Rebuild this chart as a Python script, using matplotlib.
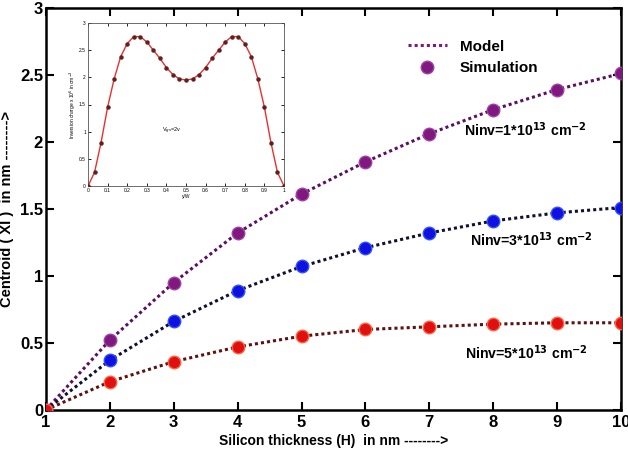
import matplotlib
matplotlib.use("Agg")
import matplotlib.pyplot as plt

plt.rcParams['font.family'] = ['Liberation Sans', 'DejaVu Sans']

thickness = [1, 2, 3, 4, 5, 6, 7, 8, 9, 10]
ninv1 = [0.0, 0.52, 0.95, 1.32, 1.61, 1.85, 2.06, 2.24, 2.39, 2.51]
ninv3 = [0.0, 0.37, 0.66, 0.89, 1.07, 1.21, 1.32, 1.41, 1.47, 1.51]
ninv5 = [0.0, 0.21, 0.36, 0.47, 0.55, 0.60, 0.62, 0.64, 0.65, 0.65]

inset_x = [i / 30 for i in range(31)]
inset_half = [0.0, 0.25, 0.80, 1.45, 1.97, 2.38, 2.62, 2.75, 2.75, 2.65,
              2.50, 2.35, 2.18, 2.05, 1.97, 1.95]
inset_y = inset_half + inset_half[-2::-1]

xticks = [1, 2, 3, 4, 5, 6, 7, 8, 9, 10]
yticks = [0, 0.5, 1, 1.5, 2, 2.5, 3]
ytick_labels = ['0', '0.5', '1', '1.5', '2', '2.5', '3']

fig = plt.figure(figsize=(6.28, 4.58), dpi=100)
ax = fig.add_axes([0.073, 0.105, 0.916, 0.878])

series = [
    (ninv1, '#80197f', '#5a1060', '#a040a0'),
    (ninv3, '#1010e0', '#101030', '#3050ff'),
    (ninv5, '#e01010', '#601010', '#ff6040'),
]
for vals, mcol, lcol, ecol in series:
    ax.plot(thickness, vals, linestyle=(0, (1, 1)), color=lcol, lw=2.2, zorder=2)
    ax.plot(thickness, vals, linestyle='none', marker='o', ms=9,
            markerfacecolor=mcol, markeredgecolor=ecol, mew=1.0, zorder=3)

# legend proxies
ax.plot([], [], linestyle=(0, (1, 1)), color='#80197f', lw=2.2, label='Model')
ax.plot([], [], linestyle='none', marker='o', ms=9, markerfacecolor='#80197f',
        markeredgecolor='#a040a0', label='Simulation')
handles, labels = ax.get_legend_handles_labels()
leg = ax.legend(handles[-2:], labels[-2:], loc='upper left',
                bbox_to_anchor=(0.605, 0.955), frameon=False,
                prop={'weight': 'bold', 'size': 11}, handlelength=2.6)

ninv_fmt = 'Ninv={}*10$^{{\\mathbf{{13}}}}$ cm$^{{\\mathbf{{-2}}}}$'
ax.text(7.55, 2.09, ninv_fmt.format(1), fontsize=10.2,
        fontweight='bold', va='center')
ax.text(7.63, 1.27, ninv_fmt.format(3), fontsize=10.2,
        fontweight='bold', va='center')
ax.text(7.56, 0.43, ninv_fmt.format(5), fontsize=10.2,
        fontweight='bold', va='center')

ax.set_xlim(1, 10)
ax.set_ylim(0, 3)
ax.set_xticks(xticks)
ax.set_yticks(yticks)
ax.set_yticklabels(ytick_labels)
ax.tick_params(direction='in', top=True, right=True, length=6, width=1.5,
               labelsize=12)
ax.tick_params(axis='y', pad=2)
for lab in ax.get_xticklabels() + ax.get_yticklabels():
    lab.set_fontweight('bold')
for s in ax.spines.values():
    s.set_linewidth(1.8)
ax.set_xlabel('Silicon thickness (H)  in nm -------->', fontsize=10,
              fontweight='bold', labelpad=3)
ax.set_ylabel('Centroid ( ΧΙ )  in nm -------->', fontsize=10.5,
              fontweight='bold')
ax.yaxis.set_label_coords(-0.056, 0.5)

# inset
ins = fig.add_axes([88 / 628, 1 - 186 / 458, 196 / 628, 163 / 458])
ins.plot(inset_x, inset_y, color='#e83030', lw=1.0, zorder=2)
ins.plot(inset_x, inset_y, linestyle='none', marker='o', ms=2.2,
         color='#602020', zorder=3)
ins.set_xlim(0, 1)
ins.set_ylim(0, 3)
ins.set_xticks([0, 0.1, 0.2, 0.3, 0.4, 0.5, 0.6, 0.7, 0.8, 0.9, 1])
ins.set_xticklabels(['0', '0.1', '0.2', '0.3', '0.4', '0.5', '0.6', '0.7',
                     '0.8', '0.9', '1'])
ins.set_yticks([0, 0.5, 1, 1.5, 2, 2.5, 3])
ins.set_yticklabels(['0', '0.5', '1', '1.5', '2', '2.5', '3'])
ins.tick_params(direction='in', top=True, right=True, length=2, width=0.6,
                labelsize=3.5, pad=1.5)
for s in ins.spines.values():
    s.set_linewidth(0.6)
    s.set_color('#555555')
ins.set_xlabel('y/W', fontsize=3.5, labelpad=1)
ins.set_ylabel('Inversion charge x 10$^{6}$ in cm$^{-3}$', fontsize=3.5,
               labelpad=1)
ins.text(0.38, 1.0, 'V$_{gs}$=2v', fontsize=4)

fig.savefig('out.png', dpi=100)
